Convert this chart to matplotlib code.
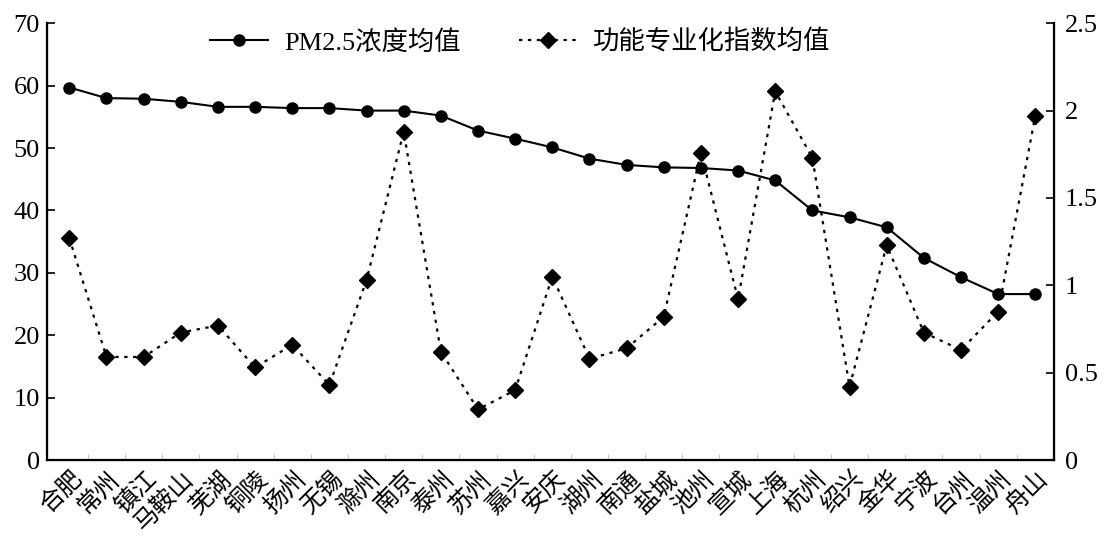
import matplotlib
matplotlib.use("Agg")
import matplotlib.pyplot as plt
from matplotlib.ticker import FixedLocator, FuncFormatter

cities = ["合肥", "常州", "镇江", "马鞍山", "芜湖", "铜陵", "扬州", "无锡", "滁州",
          "南京", "泰州", "苏州", "嘉兴", "安庆", "湖州", "南通", "盐城", "池州",
          "宣城", "上海", "杭州", "绍兴", "金华", "宁波", "台州", "温州", "舟山"]
pm25 = [59.7, 58.0, 57.9, 57.4, 56.6, 56.6, 56.4, 56.4, 56.0, 56.0, 55.2, 52.8,
        51.5, 50.1, 48.3, 47.3, 46.9, 46.8, 46.4, 44.8, 40.0, 38.9, 37.3, 32.4,
        29.3, 26.6, 26.6]
spec_index = [1.27, 0.59, 0.59, 0.73, 0.77, 0.53, 0.66, 0.43, 1.03, 1.88, 0.62,
              0.29, 0.40, 1.05, 0.58, 0.64, 0.82, 1.76, 0.92, 2.11, 1.73, 0.42,
              1.23, 0.73, 0.63, 0.85, 1.97]

serif = ["Liberation Serif", "Noto Sans CJK SC"]
cjk = ["Noto Sans CJK SC", "Liberation Serif"]

fig = plt.figure(figsize=(11.07, 5.4), dpi=100)
ax = fig.add_axes([0.0425, 0.148, 0.9095, 0.809])
ax2 = ax.twinx()

x = list(range(len(cities)))
l1, = ax.plot(x, pm25, color="black", lw=1.5, marker="o", ms=8,
              label="PM2.5浓度均值")
l2, = ax2.plot(x, spec_index, color="black", lw=1.6, ls=(0, (1.5, 2.5)),
               marker="D", ms=8, label="功能专业化指数均值")

ax.set_xlim(-0.6, 26.5)
ax.set_ylim(0, 70)
ax2.set_ylim(0, 2.5)
ax.set_yticks(range(0, 71, 10))
ax2.set_yticks([0, 0.5, 1, 1.5, 2, 2.5])
ax2.yaxis.set_major_formatter(FuncFormatter(lambda v, p: f"{v:g}"))

ax.set_xticks(x)
ax.set_xticklabels(cities, rotation=45, ha="right", rotation_mode="anchor",
                   family=cjk, fontsize=17.5)
ax.xaxis.set_minor_locator(FixedLocator([i + 0.5 for i in x[:-1]]))
ax.tick_params(axis="x", which="major", length=0, pad=4)
ax.tick_params(axis="x", which="minor", direction="in", length=4, color="#bbbbbb")
ax.tick_params(axis="y", direction="in", length=6, width=1.2, labelsize=19, pad=5)
ax2.tick_params(axis="y", direction="in", length=6, width=1.2, labelsize=19, pad=8)
for lab in ax.get_yticklabels() + ax2.get_yticklabels():
    lab.set_family(serif)

ax.spines["top"].set_visible(False)
ax2.spines["top"].set_visible(False)
for sp in ["left", "bottom"]:
    ax.spines[sp].set_linewidth(1.6)
ax2.spines["right"].set_linewidth(1.6)

leg = ax.legend(handles=[l1, l2], loc="upper center", bbox_to_anchor=(0.47, 1.04),
                ncol=2, frameon=False, handlelength=2.2, handletextpad=0.6,
                columnspacing=2.2, prop={"family": serif, "size": 19})

fig.savefig("out.png", dpi=100)
